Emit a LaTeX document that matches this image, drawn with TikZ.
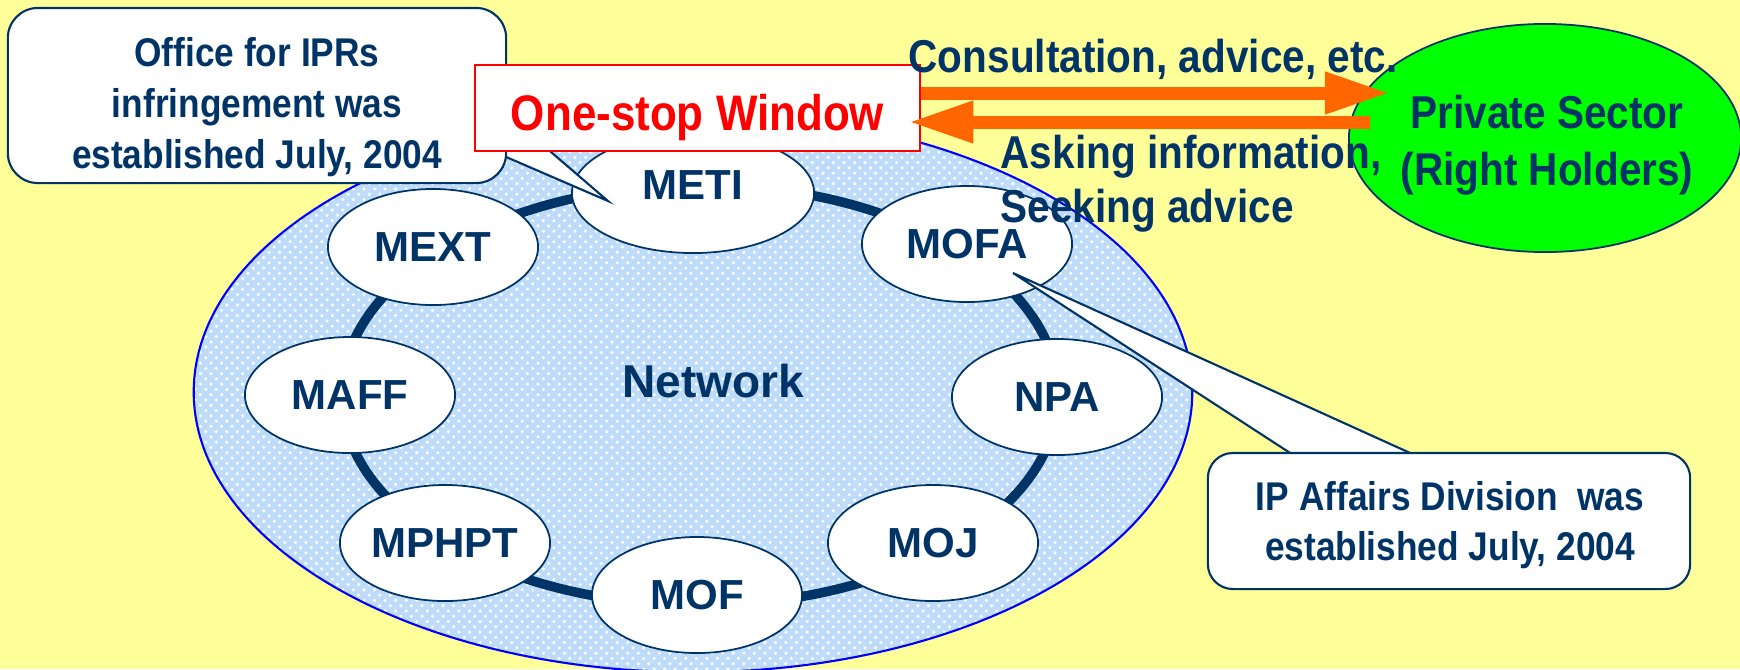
\documentclass[tikz,border=0pt]{standalone}
\usepackage{fontspec}
\setmainfont{Liberation Sans}
\newfontfamily\narrowfont[FakeStretch=0.88]{Liberation Sans}
\usetikzlibrary{shapes.geometric, arrows.meta, calc, patterns}

\definecolor{slideyellow}{RGB}{255,255,153}
\definecolor{navy}{RGB}{0,51,102}
\definecolor{netblue}{RGB}{190,220,250}
\definecolor{arrorange}{RGB}{255,102,0}
\definecolor{holdergreen}{RGB}{0,255,0}

\tikzset{
  netarea/.style={draw=blue, line width=0.6pt, pattern=crosshatch dots, pattern color=white, preaction={fill=netblue}},
  ring/.style={draw=navy, line width=0.095cm},
  agency/.style={ellipse, draw=navy, line width=0.5pt, fill=white, inner sep=0pt,
    minimum width=2.10cm, minimum height=1.16cm, text=navy, font=\bfseries\fontsize{11.95pt}{14pt}\selectfont},
  callbox/.style={draw=navy, line width=0.6pt, fill=white, rounded corners=0.3cm, inner sep=0pt},
  calltail/.style={draw=navy, line width=0.6pt, fill=white, line join=miter},
  calltext/.style={text=navy, align=center, inner sep=0pt, font=\narrowfont\bfseries\fontsize{11.4pt}{14.4pt}\selectfont},
  windowbox/.style={draw=red, line width=0.7pt, fill=white, inner sep=0pt, minimum width=4.45cm, minimum height=0.86cm,
    text=red, text height=0.45cm, text depth=0pt, font=\narrowfont\bfseries\fontsize{14.2pt}{17pt}\selectfont},
  holder/.style={ellipse, draw=navy, line width=0.5pt, fill=holdergreen, inner sep=0pt, minimum width=3.92cm, minimum height=2.28cm},
  flowtext/.style={text=navy, inner sep=0pt, font=\narrowfont\bfseries\fontsize{13.1pt}{15.4pt}\selectfont},
  fatarrow/.style={draw=arrorange, line width=0.13cm, -{Triangle[length=0.65cm, width=0.39cm]}}
}

\begin{document}
\begin{tikzpicture}[x=0.01cm, y=-0.01cm]
  % Background
  \fill[slideyellow] (0,0) rectangle (1740,669);
  \useasboundingbox (0,0) rectangle (1740,669);

  % Network area and ring
  \draw[netarea] (693,392) ellipse [x radius=4.99cm, y radius=2.80cm];
  \draw[ring] (700,395) ellipse [x radius=3.58cm, y radius=2.10cm];
  \node[text=navy, inner sep=0pt, font=\bfseries\fontsize{13.1pt}{15pt}\selectfont] (nettext) at (713,381) {Network};

  % Agencies
  \node[agency, minimum width=2.42cm, minimum height=1.20cm, text height=0.12cm, text depth=0pt] (METI) at (693,193) {METI};
  \foreach \nm/\px/\py in {MEXT/433/247, MOFA/967/244, MAFF/350/395, NPA/1057/397, MPHPT/445/543, MOJ/933/543, MOF/697/595}
    \node[agency] (\nm) at (\px,\py) {\nm};

  % Callouts
  \coordinate (metitip) at ($(METI.center)+(-85,8)$);
  \draw[calltail] (490,150) -- (metitip) -- (537,140) -- cycle;
  \node[callbox, minimum width=4.98cm, minimum height=1.75cm] (iprbox) at (257,95.5) {};
  \node[calltext] (iprtext) at (257,107) {Office for IPRs\\infringement was\\established July, 2004};

  \coordinate (mofatip) at ($(MOFA.center)+(46,29)$);
  \draw[calltail] (1304,462) -- (mofatip) -- (1430,462) -- cycle;
  \node[callbox, rounded corners=0.25cm, minimum width=4.82cm, minimum height=1.36cm] (ipabox) at (1449,521) {};
  \node[calltext] (ipatext) at (1450,525) {IP Affairs Division~~was\\established July, 2004};

  % One-stop window and private sector
  \node[windowbox] (window) at (697.5,108) {One-stop Window};
  \node[holder] (private) at (1545,138) {};
  \node[flowtext, align=center, font=\narrowfont\bfseries\fontsize{13.1pt}{16.2pt}\selectfont] (privtext) at (1547,145) {Private Sector\\(Right Holders)};

  % Arrows
  \coordinate (advtip) at (1390,93);
  \coordinate (askstart) at (1370,122);
  \draw[fatarrow] ($(window.east)+(0,-15)$) -- (advtip);
  \draw[fatarrow] (askstart) -- ($(window.east)+(-13,14)$);
  \node[flowtext, anchor=base west] (advtext) at (908,72) {Consultation, advice, etc.};
  \node[flowtext, anchor=north west, align=left] (asktext) at (1000,134) {Asking information,\\Seeking advice};
\end{tikzpicture}
\end{document}
